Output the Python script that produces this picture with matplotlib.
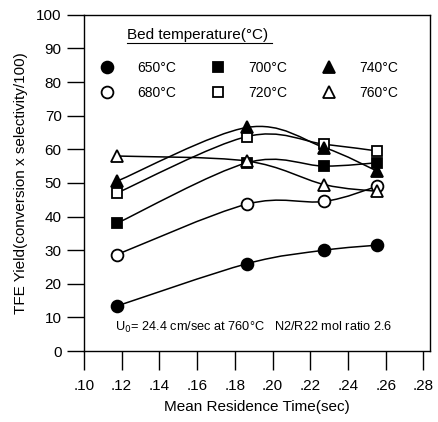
import matplotlib
matplotlib.use("Agg")
import matplotlib.pyplot as plt
from matplotlib.path import Path
from matplotlib.patches import PathPatch
from matplotlib.lines import Line2D
import numpy as np

plt.rcParams['font.family'] = ['Liberation Sans', 'DejaVu Sans']

# mean residence time (sec)
residence = [0.1175, 0.1865, 0.2275, 0.2555]

# TFE yield per bed temperature
yield_650 = [13.4, 26.0, 30.0, 31.5]
yield_680 = [28.7, 43.7, 44.5, 49.0]
yield_700 = [38.0, 56.0, 55.0, 56.0]
yield_720 = [47.0, 63.8, 61.5, 59.5]
yield_740 = [50.5, 66.5, 60.5, 53.5]
yield_760 = [58.0, 56.5, 49.5, 47.5]

temp_labels = ['650°C', '680°C', '700°C', '720°C', '740°C', '760°C']
x_ticks = [0.10, 0.12, 0.14, 0.16, 0.18, 0.20, 0.22, 0.24, 0.26, 0.28]


def smooth_path(xs, ys, tension=0.5):
    # Catmull-Rom style bezier through the measured points (drawing only)
    pts = np.column_stack([np.asarray(xs), np.asarray(ys)])
    verts = [pts[0]]
    codes = [Path.MOVETO]
    n = len(pts)
    for i in range(n - 1):
        p0 = pts[i - 1] if i > 0 else pts[i]
        p1 = pts[i]
        p2 = pts[i + 1]
        p3 = pts[i + 2] if i + 2 < n else pts[i + 1]
        c1 = p1 + (p2 - p0) * tension / 3
        c2 = p2 - (p3 - p1) * tension / 3
        verts += [c1, c2, p2]
        codes += [Path.CURVE4] * 3
    return Path(verts, codes)


fig = plt.figure(figsize=(4.39, 4.22), dpi=100)
ax = fig.add_axes([0.191, 0.168, 0.789, 0.797])

series = [yield_650, yield_680, yield_700, yield_720, yield_740, yield_760]
styles = [
    dict(marker='o', mfc='black', ms=8.5),
    dict(marker='o', mfc='white', ms=8.5),
    dict(marker='s', mfc='black', ms=7.5),
    dict(marker='s', mfc='white', ms=7.5),
    dict(marker='^', mfc='black', ms=8.5),
    dict(marker='^', mfc='white', ms=8.5),
]

# smooth connecting curves
for ys in series:
    ax.add_patch(PathPatch(smooth_path(residence, ys), fill=False,
                           edgecolor='black', lw=1.1, zorder=2))

handles = []
for ys, st, lab in zip(series, styles, temp_labels):
    ax.plot(residence, ys, linestyle='none', marker=st['marker'], ms=st['ms'],
            mfc=st['mfc'], mec='black', mew=1.3, zorder=3)
    handles.append(Line2D([], [], linestyle='none', marker=st['marker'],
                          ms=st['ms'], mfc=st['mfc'], mec='black', mew=1.3, label=lab))

ax.set_xlim(0.10, 0.2836)
ax.set_ylim(0, 100)
ax.set_xticks(x_ticks)
ax.set_xticklabels(['.%02d' % round(t * 100) for t in x_ticks])
ax.set_yticks(range(0, 101, 10))
ax.tick_params(axis='x', direction='out', length=14, width=1.0, pad=6, labelsize=11)
ax.tick_params(axis='y', direction='out', length=12, width=1.0, pad=4, labelsize=11)
for sp in ax.spines.values():
    sp.set_linewidth(1.0)

ax.set_xlabel('Mean Residence Time(sec)', fontsize=11, labelpad=5)
ax.set_ylabel('TFE Yield(conversion x selectivity/100)', fontsize=11, labelpad=6)

ax.text(0.124, 0.940, "Bed temperature(°C)", transform=ax.transAxes,
        fontsize=11, ha='left', va='center')
ax.plot([0.124, 0.543], [0.916, 0.916], transform=ax.transAxes,
        color='black', lw=0.8, clip_on=False)

ax.legend(handles=handles, ncol=3, loc='upper left', bbox_to_anchor=(0.046, 0.862),
          frameon=False, fontsize=10, handlelength=1.0, handletextpad=1.7,
          columnspacing=2.5, labelspacing=0.8, borderpad=0, borderaxespad=0)

ax.text(0.09, 0.071, "U$_0$= 24.4 cm/sec at 760°C   N2/R22 mol ratio 2.6",
        transform=ax.transAxes, fontsize=9.2, ha='left', va='center')

fig.savefig('out.png', dpi=100)
